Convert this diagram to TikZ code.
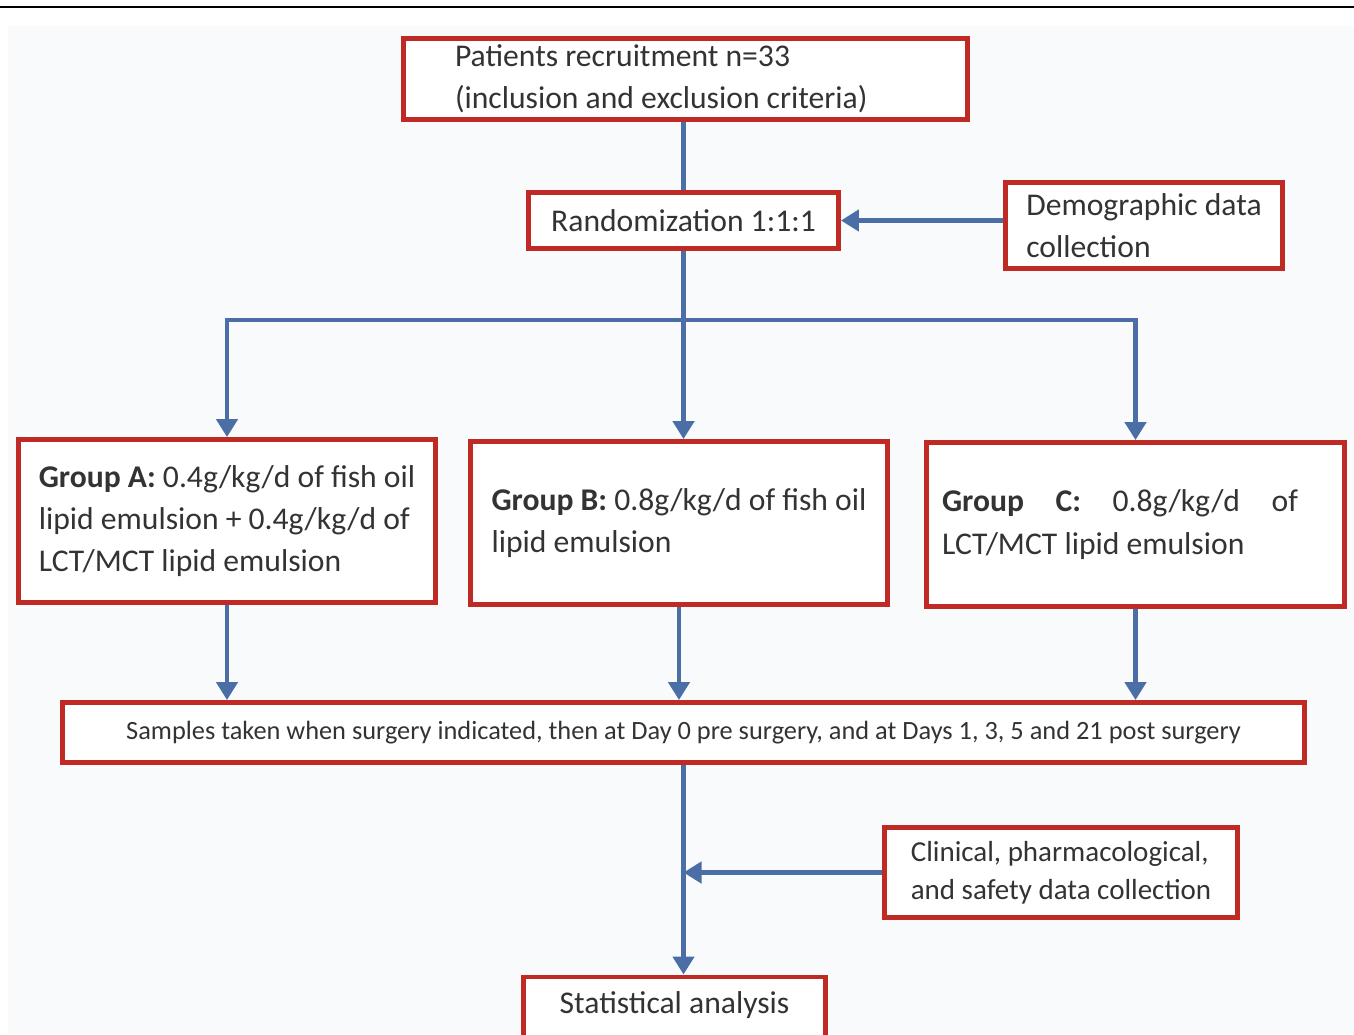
\documentclass[tikz,border=0pt]{standalone}
\usepackage{fontspec}
\setmainfont{Carlito}
\usepackage{xcolor}
\usepackage{tikz}
\usetikzlibrary{arrows.meta, positioning, calc}
\definecolor{boxred}{RGB}{192,42,36}
\definecolor{flowblue}{RGB}{74,110,165}
\definecolor{panel}{RGB}{249,250,252}

\begin{document}
\begin{tikzpicture}[x=0.02cm, y=-0.02cm,
    box/.style={draw=boxred, line width=2.8pt, fill=white, align=flush left,
                text=black!80, font=\fontsize{18}{24}\selectfont},
    link/.style={draw=flowblue, line width=2.7pt},
    arr/.style={link, -{Triangle[length=0.36cm, width=0.42cm]}}]
  \useasboundingbox (0,0) rectangle (1354,1034);
  \clip (0,0) rectangle (1354,1034);
  \fill[panel] (8,26) rectangle (1354,1034);
  \draw[line width=1.1pt] (0,7) -- (1354,7);

  \node[box, text width=9.22cm, inner xsep=1.03cm, minimum height=1.58cm] (recruit) at (685.5,79)
    {Patients recruitment n=33\\(inclusion and exclusion criteria)};
  \node[box, minimum width=6.20cm, minimum height=1.12cm] (rand) at (683.5,220.5)
    {Randomization 1:1:1};
  \node[box, minimum width=5.54cm, minimum height=1.72cm] (demo) at (1144,225.5)
    {Demographic data\\collection};

  \node[box, minimum width=8.34cm, minimum height=3.26cm] (groupA) at (227,521)
    {\textbf{Group A:} 0.4g/kg/d of fish oil\\lipid emulsion + 0.4g/kg/d of\\LCT/MCT lipid emulsion};
  \node[box, minimum width=8.34cm, minimum height=3.26cm] (groupB) at (679,523)
    {\textbf{Group B:} 0.8g/kg/d of fish oil\\lipid emulsion};
  \node[box, text width=7.74cm, inner xsep=0.31cm, minimum height=3.28cm] (groupC) at (1135.5,524.5)
    {\makebox[7.12cm][l]{\textbf{Group}\hfill\textbf{C:}\hfill 0.8g/kg/d\hfill of}\\LCT/MCT lipid emulsion};

  \node[box, align=center, minimum width=24.84cm, minimum height=1.20cm,
        font=\fontsize{15}{18}\selectfont] (samples) at (683.5,732.5)
    {Samples taken when surgery indicated, then at Day 0 pre surgery, and at Days 1, 3, 5 and 21 post surgery};
  \node[box, minimum width=7.06cm, minimum height=1.80cm,
        font=\fontsize{16.5}{21.5}\selectfont] (clinical) at (1061,872.5)
    {Clinical, pharmacological,\\and safety data collection};
  \node[box, anchor=north, minimum width=6.04cm, inner ysep=0.2cm,
        text height=0.53cm, text depth=0.6cm] (stat) at (674.5,974.5)
    {Statistical analysis};

  \coordinate (fork) at (683.5,320);
  \draw[link] (recruit.south -| rand.north) -- (rand.north);
  \draw[arr] (demo.west |- rand.east) -- (rand.east);
  \draw[arr] (rand.south) -- (rand.south |- groupB.north);
  \draw[link, {Triangle[length=0.36cm, width=0.42cm]}-{Triangle[length=0.36cm, width=0.42cm]}]
    (groupA.north) |- (fork) -| (groupC.north);
  \draw[arr] (groupA.south) -- (groupA.south |- samples.north);
  \draw[arr] (groupB.south) -- (groupB.south |- samples.north);
  \draw[arr] (groupC.south) -- (groupC.south |- samples.north);
  \draw[arr] (samples.south) -- (samples.south |- stat.north);
  \draw[arr] (clinical.west) -- (clinical.west -| samples.south);
\end{tikzpicture}
\end{document}
